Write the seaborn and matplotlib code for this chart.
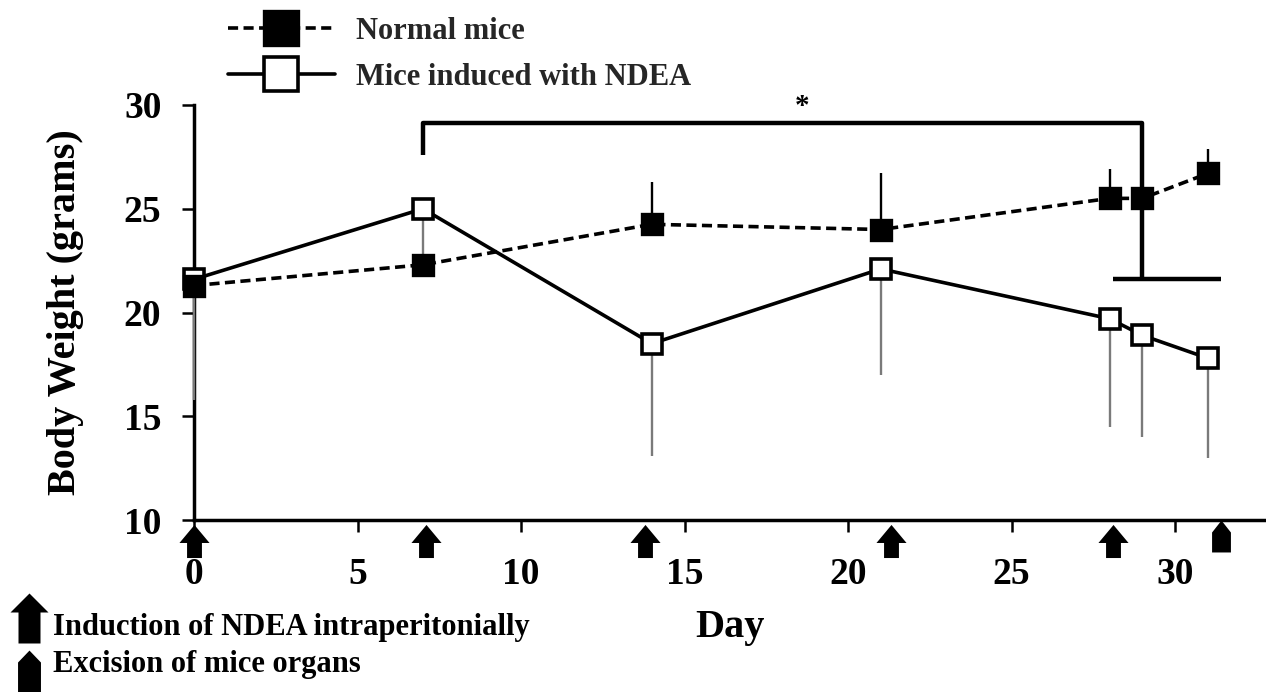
import numpy as np
import pandas as pd
import matplotlib
matplotlib.use("Agg")
import matplotlib.pyplot as plt
import matplotlib.transforms as mtransforms
from matplotlib.path import Path
from matplotlib.lines import Line2D
import seaborn as sns

# ---------------- data ----------------
days = [0, 7, 14, 21, 28, 29, 31]
normal_mean = [21.3, 22.3, 24.25, 24.0, 25.5, 25.5, 26.7]
normal_err = [0.5, 0.5, 2.05, 2.7, 1.4, 1.3, 1.2]
ndea_mean = [21.6, 25.0, 18.5, 22.1, 19.7, 18.9, 17.8]
ndea_err = [5.8, 2.8, 5.4, 5.1, 5.2, 4.9, 4.8]
series_labels = ["Normal mice", "Mice induced with NDEA"]
induction_days = [0, 7.1, 13.8, 21.3, 28.1]
excision_days = [31.4]
x_ticks = [0, 5, 10, 15, 20, 25, 30]
y_ticks = [10, 15, 20, 25, 30]
bracket_days = [7, 7, 29, 29]
bracket_vals = [27.6, 29.15, 29.15, 21.6]
bracket_foot_days = [28.1, 31.4]
bracket_foot_val = 21.6
star_day = 18.6
star_val = 29.95
x_label = "Day"
y_label = "Body Weight (grams)"
note_labels = ["Induction of NDEA intraperitonially", "Excision of mice organs"]

# ---------------- style ----------------
sns.set_theme(style="ticks")
plt.rcParams['font.family'] = ['Liberation Serif', 'DejaVu Serif']
plt.rcParams['font.weight'] = 'bold'
plt.rcParams['axes.labelweight'] = 'bold'

W, H = 1266, 692
fig = plt.figure(figsize=(W / 100, H / 100), dpi=100)
ax_left, ax_bottom_px, ax_top_px = 194, 520, 105
ax = fig.add_axes([ax_left / W, 1 - ax_bottom_px / H, 1 - ax_left / W,
                   (ax_bottom_px - ax_top_px) / H])
ax_h_px = ax_bottom_px - ax_top_px

df_n = pd.DataFrame({"Day": days, "Weight": normal_mean})
df_d = pd.DataFrame({"Day": days, "Weight": ndea_mean})

LW = 2.6
DASH = (0, (2.8, 1.5))

# one-sided error bars
nm, ne = np.array(normal_mean), np.array(normal_err)
dm, de = np.array(ndea_mean), np.array(ndea_err)
ax.vlines(days, dm - de, dm, colors='#7a7a7a', lw=1.7, zorder=3, clip_on=False)
ax.vlines(days, nm, nm + ne, colors='black', lw=1.7, zorder=3, clip_on=False)

# lines
sns.lineplot(data=df_d, x="Day", y="Weight", ax=ax, color='black', lw=LW,
             marker='s', markersize=14.5, markerfacecolor='white',
             markeredgecolor='black', markeredgewidth=2.6, zorder=4,
             clip_on=False, errorbar=None, legend=False)
sns.lineplot(data=df_n, x="Day", y="Weight", ax=ax, color='black', lw=LW,
             linestyle=DASH,
             marker='s', markersize=15, markerfacecolor='black',
             markeredgecolor='black', markeredgewidth=2.4, zorder=5,
             clip_on=False, errorbar=None, legend=False)

# axes
ax.set_xlim(0, (W - ax_left) / 32.7)
ax.set_ylim(10, 30)
ax.set_xticks(x_ticks)
ax.set_yticks(y_ticks)
sns.despine(ax=ax)
for s in ['left', 'bottom']:
    ax.spines[s].set_linewidth(2.5)
    ax.spines[s].set_color('black')
ax.tick_params(axis='both', direction='out', length=8.5, width=1.8,
               color='black', labelsize=27, labelcolor='black')
ax.tick_params(axis='y', pad=15)
ax.tick_params(axis='x', pad=18)
ax.set_ylabel(y_label, fontsize=29, fontweight='bold', color='black')
ax.yaxis.set_label_coords(-0.103, 0.5)
ax.set_xlabel(x_label, fontsize=29, fontweight='bold', color='black')
ax.xaxis.set_label_coords(0.5, -0.215)

# significance bracket
ax.plot(bracket_days, bracket_vals, color='black', lw=3.2, zorder=6,
        clip_on=False, solid_capstyle='butt')
ax.plot(bracket_foot_days, [bracket_foot_val] * 2, color='black', lw=3.2,
        zorder=6, clip_on=False, solid_capstyle='butt')
ax.text(star_day, star_val, "*", fontsize=21, ha='center', va='center',
        color='black')

# arrows below axis
arrow_path = Path([(0, 1), (0.91, -0.09), (0.45, -0.09), (0.45, -1),
                   (-0.45, -1), (-0.45, -0.09), (-0.91, -0.09), (0, 1)])
excision_path = Path([(0, 1), (0.59, 0.25), (0.59, -1), (-0.59, -1),
                      (-0.59, 0.25), (0, 1)])
trans = mtransforms.blended_transform_factory(ax.transData, ax.transAxes)
ax.plot(induction_days, [-20.5 / ax_h_px] * len(induction_days),
        transform=trans, marker=arrow_path, ms=23.8, ls='none',
        color='black', mec='none', clip_on=False, zorder=7)
ax.plot(excision_days, [-16 / ax_h_px] * len(excision_days),
        transform=trans, marker=excision_path, ms=23, ls='none',
        color='black', mec='none', clip_on=False, zorder=7)

# bottom-left key
key_arrow = Path([(0, 1), (0.76, 0.24), (0.44, 0.24), (0.44, -1),
                  (-0.44, -1), (-0.44, 0.24), (-0.76, 0.24), (0, 1)])
key_exc = Path([(0, 1), (0.5, 0.48), (0.5, -1), (-0.5, -1), (-0.5, 0.48),
                (0, 1)])
fig.add_artist(Line2D([29 / W], [1 - 618 / H], transform=fig.transFigure,
                      marker=key_arrow, ms=36, ls='none', color='black',
                      mec='none'))
fig.add_artist(Line2D([29 / W], [1 - 673 / H], transform=fig.transFigure,
                      marker=key_exc, ms=33, ls='none', color='black',
                      mec='none'))
fig.text(53 / W, 1 - 635 / H, note_labels[0], fontsize=22, va='baseline',
         ha='left', color='black')
fig.text(53 / W, 1 - 672 / H, note_labels[1], fontsize=22, va='baseline',
         ha='left', color='black')

# top legend
handles = [
    Line2D([], [], color='black', lw=LW, linestyle=DASH,
           marker='s', ms=25, mfc='black', mec='black', mew=2.4),
    Line2D([], [], color='black', lw=LW, marker='s', ms=25, mfc='white',
           mec='black', mew=2.6),
]
fig.legend(handles, series_labels, loc='upper left',
           bbox_to_anchor=(228 / W, 1 - 17 / H), frameon=False, fontsize=22,
           handlelength=3.5, handletextpad=0.7, labelspacing=0.55,
           borderpad=0, borderaxespad=0)

fig.savefig("out.png", dpi=100)
